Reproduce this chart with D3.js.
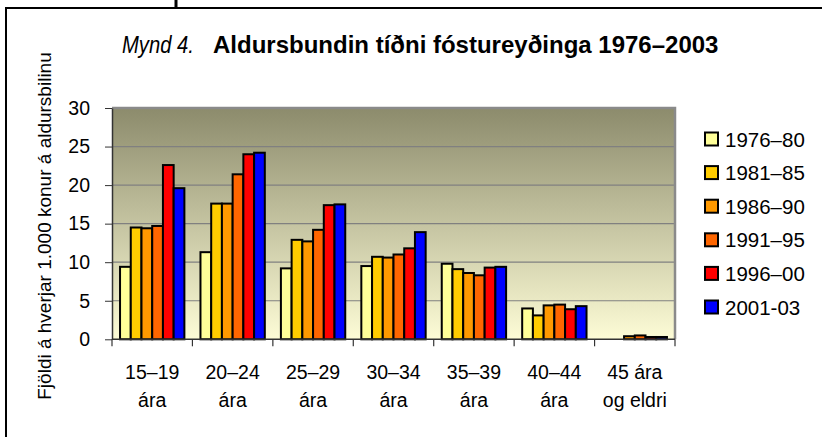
<!DOCTYPE html>
<html><head><meta charset="utf-8">
<script src="https://cdn.jsdelivr.net/npm/d3@7"></script>
<style>body{margin:0;background:#fff}svg{display:block}</style>
</head><body>
<script>
const categories = [["15–19","ára"],["20–24","ára"],["25–29","ára"],["30–34","ára"],["35–39","ára"],["40–44","ára"],["45 ára","og eldri"]];
const seriesNames = ["1976–80","1981–85","1986–90","1991–95","1996–00","2001-03"];
const seriesColors = ["#FFFF99","#FFCC00","#FF9900","#FF6600","#FF0000","#0000FF"];
const s1976 = [9.4, 11.3, 9.2, 9.5, 9.8, 4.0, null];
const s1981 = [14.5, 17.6, 12.9, 10.7, 9.1, 3.1, null];
const s1986 = [14.4, 17.6, 12.7, 10.6, 8.6, 4.4, 0.4];
const s1991 = [14.7, 21.4, 14.2, 11.0, 8.3, 4.5, 0.5];
const s1996 = [22.6, 24.0, 17.4, 11.8, 9.3, 3.9, 0.3];
const s2001 = [19.6, 24.2, 17.5, 13.9, 9.4, 4.3, 0.3];
const seriesValues = [s1976, s1981, s1986, s1991, s1996, s2001];
const yTicks = [0, 5, 10, 15, 20, 25, 30];
const titleItalic = "Mynd 4.";
const titleBold = "Aldursbundin tíðni fóstureyðinga 1976–2003";
const yLabel = "Fjöldi á hverjar 1.000 konur á aldursbilinu";

const W = 822, H = 437;
const FONT = "'Liberation Sans', Arial, sans-serif";
const svg = d3.select("body").append("svg").attr("width", W).attr("height", H)
  .style("font-family", FONT);

// page frame
svg.append("line").attr("x1", 5).attr("x2", W).attr("y1", 8).attr("y2", 8).attr("stroke", "#000").attr("stroke-width", 2);
svg.append("line").attr("x1", 6).attr("x2", 6).attr("y1", 8).attr("y2", H).attr("stroke", "#000").attr("stroke-width", 2);
svg.append("line").attr("x1", 176).attr("x2", 176).attr("y1", 0).attr("y2", 8).attr("stroke", "#000").attr("stroke-width", 3);

const m = {left: 112, top: 108, right: 675, bottom: 339.3};
const x = d3.scaleBand().domain(d3.range(categories.length)).range([m.left, m.right]).paddingInner(0).paddingOuter(0);
const xs = d3.scaleBand().domain(d3.range(seriesNames.length)).range([0, x.bandwidth()]).paddingOuter(0.75).paddingInner(0);
const y = d3.scaleLinear().domain([0, 30]).range([m.bottom, m.top]);

const defs = svg.append("defs");
const grad = defs.append("linearGradient").attr("id", "bg").attr("x1", 0).attr("y1", 0).attr("x2", 0).attr("y2", 1);
grad.append("stop").attr("offset", "0%").attr("stop-color", "#8c8b6c");
grad.append("stop").attr("offset", "100%").attr("stop-color", "#fdfcd6");

svg.append("rect").attr("x", m.left).attr("y", m.top).attr("width", m.right - m.left).attr("height", m.bottom - m.top).attr("fill", "url(#bg)");

// gridlines
svg.append("g").selectAll("line").data(yTicks.filter(d => d > 0)).join("line")
  .attr("x1", m.left).attr("x2", m.right).attr("y1", d => y(d)).attr("y2", d => y(d))
  .attr("stroke", "#808080").attr("stroke-width", 1.2);

// plot border top/right
svg.append("path").attr("d", `M${m.left},${m.top}H${m.right}V${m.bottom}`).attr("fill", "none").attr("stroke", "#8a8a8a").attr("stroke-width", 2.5);

// bars
const bars = [];
seriesValues.forEach((arr, si) => arr.forEach((v, ci) => { if (v != null) bars.push({si, ci, v}); }));
svg.append("g").selectAll("rect").data(bars).join("rect")
  .attr("x", d => x(d.ci) + xs(d.si))
  .attr("y", d => y(d.v))
  .attr("width", xs.bandwidth())
  .attr("height", d => y(0) - y(d.v))
  .attr("fill", d => seriesColors[d.si])
  .attr("stroke", "#000").attr("stroke-width", 2);

// y axis
const yAxis = svg.append("g").attr("transform", `translate(${m.left},0)`)
  .call(d3.axisLeft(y).tickValues(yTicks).tickSize(7).tickPadding(15).tickSizeOuter(0));
yAxis.select(".domain").attr("stroke", "#333").attr("stroke-width", 1.5);
yAxis.selectAll(".tick line").attr("stroke", "#333");
yAxis.selectAll("text").attr("font-size", 19.5).attr("fill", "#000").style("font-family", FONT);

// x axis
const xAxis = svg.append("g").attr("transform", `translate(0,${m.bottom})`);
xAxis.append("line").attr("x1", m.left).attr("x2", m.right).attr("stroke", "#333").attr("stroke-width", 1.5);
const bounds = d3.range(categories.length + 1).map(i => i < categories.length ? x(i) : m.right);
xAxis.selectAll("line.tk").data(bounds).join("line").attr("class", "tk")
  .attr("x1", d => d).attr("x2", d => d).attr("y1", 0).attr("y2", 7).attr("stroke", "#333").attr("stroke-width", 1.2);
const xl = xAxis.selectAll("text").data(categories).join("text")
  .attr("text-anchor", "middle").attr("font-size", 19.5).attr("fill", "#000");
xl.append("tspan").attr("x", (d, i) => x(i) + x.bandwidth() / 2).attr("y", 40).text(d => d[0]);
xl.append("tspan").attr("x", (d, i) => x(i) + x.bandwidth() / 2).attr("y", 68).text(d => d[1]);

// y label
svg.append("text").attr("transform", "translate(51,226) rotate(-90)")
  .attr("text-anchor", "middle").attr("font-size", 19).attr("fill", "#000").text(yLabel);

// title
svg.append("text").attr("transform", "translate(122,53) scale(0.88,1)").attr("font-size", 23).attr("font-style", "italic").attr("fill", "#000").text(titleItalic);
svg.append("text").attr("x", 213).attr("y", 53).attr("font-size", 24).attr("font-weight", "bold").attr("fill", "#000").text(titleBold);

// legend
const lg = svg.append("g").selectAll("g").data(seriesNames).join("g")
  .attr("transform", (d, i) => `translate(704,${139 + i * 33.6})`);
lg.append("rect").attr("x", 1).attr("y", -6.5).attr("width", 13).attr("height", 13)
  .attr("fill", (d, i) => seriesColors[i]).attr("stroke", "#000").attr("stroke-width", 2);
lg.append("text").attr("x", 21).attr("y", 7.5).attr("font-size", 20.5).attr("fill", "#000").text(d => d);
</script>
</body></html>
